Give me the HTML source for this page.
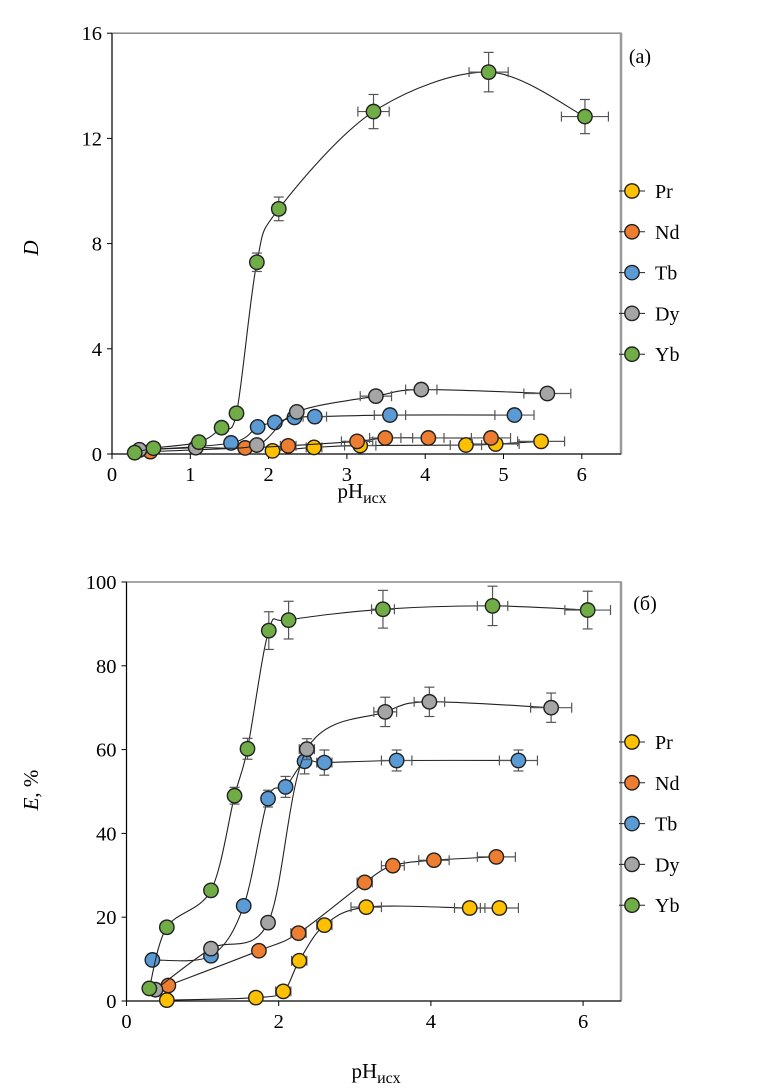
<!DOCTYPE html>
<html><head><meta charset="utf-8">
<style>
body{margin:0;background:#fff;}
svg{display:block;font-family:"Liberation Serif","DejaVu Serif",serif;}
</style></head>
<body>
<svg id="chart" width="775" height="1088" viewBox="0 0 775 1088" xmlns="http://www.w3.org/2000/svg"></svg>
<script>
// ---------- data (a): D vs pH ----------
const seriesNames = ["Pr","Nd","Tb","Dy","Yb"];
const seriesColors = ["#ffc000","#ed7d31","#5b9bd5","#a5a5a5","#70ad47"];
const aPrX = [2.05,2.58,3.17,4.52,4.90,5.48];
const aPrY = [0.12,0.25,0.32,0.34,0.38,0.48];
const aPrXe = [0,0.1,0.2,0.2,0.3,0.3];
const aNdX = [0.49,1.70,2.25,3.13,3.49,4.04,4.84];
const aNdY = [0.09,0.23,0.31,0.48,0.61,0.61,0.61];
const aNdXe = [0,0,0.1,0.2,0.2,0.2,0.25];
const aTbX = [0.35,1.52,1.86,2.08,2.33,2.59,3.55,5.14];
const aTbY = [0.15,0.42,1.03,1.20,1.39,1.42,1.48,1.48];
const aTbXe = [0,0,0.05,0.05,0.05,0.15,0.2,0.25];
const aDyX = [0.35,1.07,1.85,2.36,3.37,3.95,5.56];
const aDyY = [0.16,0.24,0.34,1.60,2.20,2.45,2.30];
const aDyXe = [0,0,0,0.05,0.2,0.2,0.3];
const aYbX = [0.29,0.53,1.11,1.40,1.59,1.85,2.13,3.34,4.81,6.04];
const aYbY = [0.05,0.22,0.45,1.00,1.55,7.29,9.32,13.02,14.52,12.83];
const aYbXe = [0,0,0,0,0.03,0.06,0.08,0.2,0.25,0.3];
const aYbYe = [0,0,0,0,0.2,0.35,0.45,0.65,0.75,0.65];
const aXTicks = [0,1,2,3,4,5,6];
const aYTicks = [0,4,8,12,16];
// ---------- data (б): E% vs pH ----------
const bPrX = [0.53,1.70,2.06,2.27,2.60,3.15,4.51,4.90];
const bPrY = [0.2,0.8,2.3,9.6,18.1,22.4,22.2,22.2];
const bPrXe = [0,0,0.1,0.1,0.1,0.2,0.2,0.25];
const bNdX = [0.55,1.74,2.26,3.13,3.50,4.04,4.86];
const bNdY = [3.7,12.0,16.2,28.3,32.3,33.6,34.4];
const bNdXe = [0,0,0.1,0.1,0.15,0.2,0.25];
const bTbX = [0.34,1.11,1.54,1.86,2.09,2.34,2.60,3.55,5.15];
const bTbY = [9.8,10.8,22.7,48.3,51.1,57.2,56.9,57.4,57.4];
const bTbXe = [0,0,0,0,0,0.05,0.1,0.2,0.25];
const bTbYe = [0,0,0,2,2.5,3,3,2.5,2.5];
const bDyX = [0.38,1.11,1.86,2.37,3.40,3.98,5.58];
const bDyY = [2.7,12.5,18.7,60.1,69.0,71.4,70.0];
const bDyXe = [0,0,0.05,0.1,0.15,0.2,0.27];
const bDyYe = [0,0,0,2.5,3.5,3.5,3.5];
const bYbX = [0.30,0.53,1.11,1.42,1.59,1.87,2.13,3.37,4.81,6.06];
const bYbY = [3.0,17.6,26.4,49.0,60.2,88.4,90.9,93.5,94.3,93.3];
const bYbXe = [0,0,0,0,0,0.05,0.05,0.15,0.2,0.3];
const bYbYe = [0,0,0,2,2.5,4.5,4.5,4.5,4.7,4.5];
const bXTicks = [0,2,4,6];
const bYTicks = [0,20,40,60,80,100];

const NS="http://www.w3.org/2000/svg";
const svg=document.getElementById('chart');
function mk(tag,attrs,parent){const e=document.createElementNS(NS,tag);for(const k in attrs)e.setAttribute(k,attrs[k]);(parent||svg).appendChild(e);return e;}

function catmull(pts){
  if(pts.length<2)return "";
  let d="M"+pts[0][0]+","+pts[0][1];
  for(let i=0;i<pts.length-1;i++){
    const p0=pts[i-1]||pts[i],p1=pts[i],p2=pts[i+1],p3=pts[i+2]||p2;
    const t=0.16;
    const c1=[p1[0]+(p2[0]-p0[0])*t,p1[1]+(p2[1]-p0[1])*t];
    const c2=[p2[0]-(p3[0]-p1[0])*t,p2[1]-(p3[1]-p1[1])*t];
    d+=" C"+c1[0].toFixed(1)+","+c1[1].toFixed(1)+" "+c2[0].toFixed(1)+","+c2[1].toFixed(1)+" "+p2[0].toFixed(1)+","+p2[1].toFixed(1);
  }
  return d;
}

function panel(cfg){
  const g=mk('g',{});
  
  
  const X=v=>cfg.x0+v*cfg.xu, Y=v=>cfg.y0-(v-cfg.ymin)*cfg.yu;
  const L=X(0), R=cfg.right, T=Y(cfg.ymax), B=Y(cfg.ymin);
  const frame=mk('rect',{x:L,y:T,width:R-L,height:B-T,fill:'none',stroke:'#888','stroke-width':1.5},g);
  
  
  mk('line',{x1:R,y1:T,x2:R,y2:B,stroke:'#999','stroke-width':2.5},g);
  mk('line',{x1:L,y1:T,x2:L,y2:B,stroke:'#000','stroke-width':1},g);
  mk('line',{x1:L,y1:B,x2:R,y2:B,stroke:'#000','stroke-width':1},g);
  cfg.xt.forEach(v=>{
    mk('line',{x1:X(v),y1:B,x2:X(v),y2:B+5,stroke:'#000'},g);
    const t=mk('text',{x:X(v),y:B+27,'font-size':20.5,'text-anchor':'middle'},g);t.textContent=v;
    
    
  });
  cfg.yt.forEach(v=>{
    mk('line',{x1:L-5,y1:Y(v),x2:L,y2:Y(v),stroke:'#000'},g);
    const t=mk('text',{x:L-10,y:Y(v)+7,'font-size':20.5,'text-anchor':'end'},g);t.textContent=v;
    
    
  });
  const xt=mk('text',{x:cfg.xtx,y:cfg.xty,'font-size':21,'text-anchor':'middle'},g);
  
  
  xt.innerHTML='pH<tspan font-size="16" dy="5">исх</tspan>';
  const yt=mk('text',{x:0,y:0,'font-size':21,'text-anchor':'middle',transform:`translate(${cfg.ytx},${cfg.yty}) rotate(-90)`},g);
  
  
  yt.innerHTML=cfg.ytitle;
  const lab=mk('text',{x:cfg.labx,y:cfg.laby,'font-size':20,'text-anchor':'middle'},g);
  
  
  lab.textContent=cfg.label;
  cfg.series.forEach((s,i)=>{
    const sg=mk('g',{},g);
    
    
    const pts=s.x.map((v,j)=>[X(v),Y(s.y[j])]);
    const path=mk('path',{d:catmull(pts),fill:'none',stroke:'#222','stroke-width':1.1},sg);
    
    
    s.x.forEach((v,j)=>{
      const xe=(s.xe||[])[j]||0, ye=(s.ye||[])[j]||0;
      const cx=X(v), cy=Y(s.y[j]);
      if(xe>0){
        const a=X(v-xe),b=X(v+xe);
        mk('line',{x1:a,y1:cy,x2:b,y2:cy,stroke:'#555','stroke-width':1.2},sg);
        mk('line',{x1:a,y1:cy-5,x2:a,y2:cy+5,stroke:'#555','stroke-width':1.2},sg);
        mk('line',{x1:b,y1:cy-5,x2:b,y2:cy+5,stroke:'#555','stroke-width':1.2},sg);
      }
      if(ye>0){
        const a=Y(s.y[j]-ye),b=Y(s.y[j]+ye);
        mk('line',{x1:cx,y1:a,x2:cx,y2:b,stroke:'#555','stroke-width':1.2},sg);
        mk('line',{x1:cx-5,y1:a,x2:cx+5,y2:a,stroke:'#555','stroke-width':1.2},sg);
        mk('line',{x1:cx-5,y1:b,x2:cx+5,y2:b,stroke:'#555','stroke-width':1.2},sg);
      }
    });
    s.x.forEach((v,j)=>{
      const c=mk('circle',{cx:X(v),cy:Y(s.y[j]),r:7.2,fill:seriesColors[i],stroke:'#222','stroke-width':1.4},sg);
      
      
    });
  });
  seriesNames.forEach((n,i)=>{
    const lg=mk('g',{},g);
    
    
    const yy=cfg.legy+i*40.8;
    mk('line',{x1:cfg.legx-13,y1:yy,x2:cfg.legx+13,y2:yy,stroke:'#222','stroke-width':1},lg);
    mk('circle',{cx:cfg.legx,cy:yy,r:7.2,fill:seriesColors[i],stroke:'#222','stroke-width':1.4},lg);
    const t=mk('text',{x:cfg.legx+23,y:yy+7,'font-size':20},lg);t.textContent=n;
  });
}

panel({name:'chart-a',x0:112,xu:78.3,right:621,y0:454,yu:26.3,ymin:0,ymax:16,
  xt:aXTicks,yt:aYTicks,xtx:362,xty:498,ytx:38,yty:248,ytitle:'<tspan font-style="italic">D</tspan>',
  label:'(a)',labx:640,laby:63,legx:632,legy:191,
  series:[
    {x:aPrX,y:aPrY,xe:aPrXe},{x:aNdX,y:aNdY,xe:aNdXe},{x:aTbX,y:aTbY,xe:aTbXe},
    {x:aDyX,y:aDyY,xe:aDyXe},{x:aYbX,y:aYbY,xe:aYbXe,ye:aYbYe}]});

panel({name:'chart-b',x0:126.5,xu:76.1,right:621,y0:1001,yu:4.19,ymin:0,ymax:100,
  xt:bXTicks,yt:bYTicks,xtx:376,xty:1078,ytx:38,yty:790,ytitle:'<tspan font-style="italic">E</tspan>, %',
  label:'(б)',labx:645,laby:610,legx:632,legy:742,
  series:[
    {x:bPrX,y:bPrY,xe:bPrXe},{x:bNdX,y:bNdY,xe:bNdXe},{x:bTbX,y:bTbY,xe:bTbXe,ye:bTbYe},
    {x:bDyX,y:bDyY,xe:bDyXe,ye:bDyYe},{x:bYbX,y:bYbY,xe:bYbXe,ye:bYbYe}]});
</script>
</body></html>
